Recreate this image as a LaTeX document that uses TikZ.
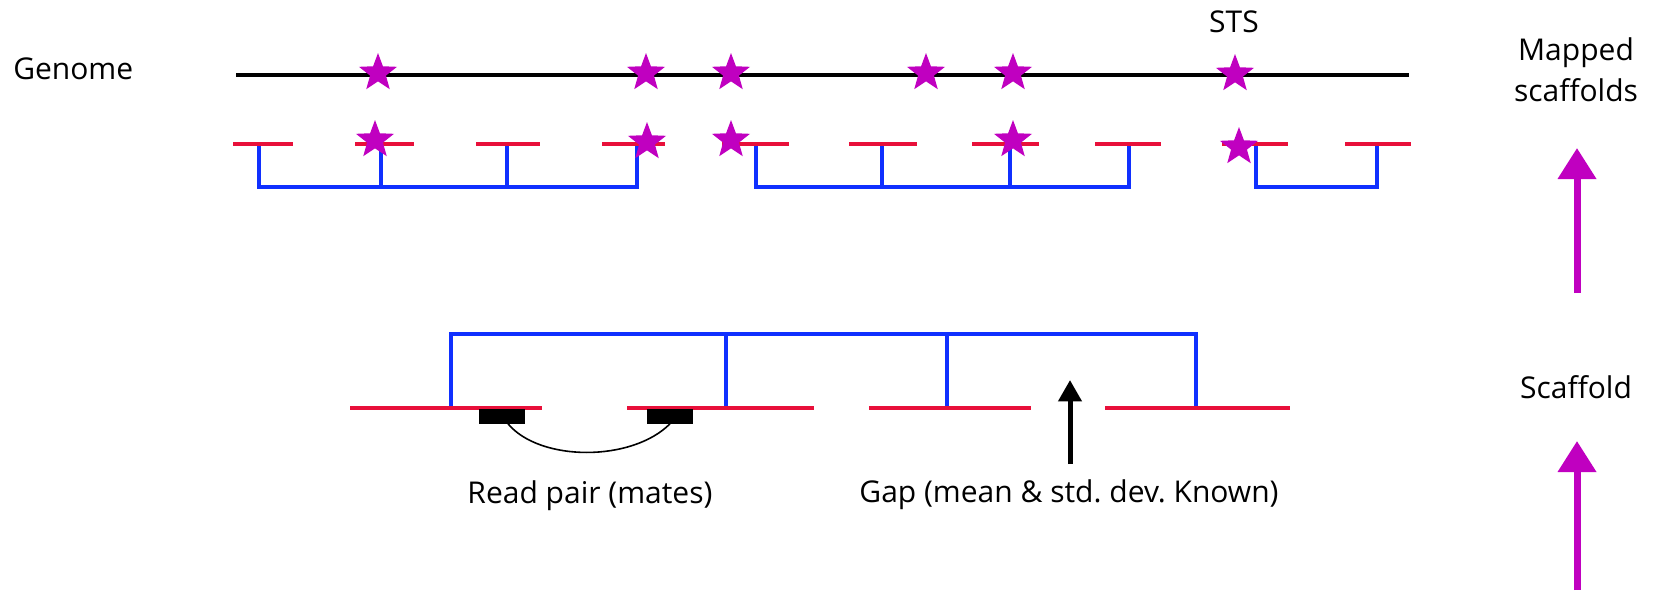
\documentclass[tikz,border=0pt]{standalone}
\usepackage{fontspec}
\setmainfont{Open Sans}
\usetikzlibrary{arrows.meta,shapes.geometric}
\definecolor{stsmag}{RGB}{192,0,192}
\definecolor{contigred}{RGB}{232,16,58}
\definecolor{linkblue}{RGB}{16,48,255}
\begin{document}
\begin{tikzpicture}[x=0.75pt,y=-0.75pt,
  lbl/.style={font=\fontsize{22.5}{28}\selectfont, inner sep=0pt},
  genomeline/.style={line width=3.4pt, black},
  contig/.style={line width=3.1pt, contigred},
  link/.style={line width=3pt, linkblue, line join=miter},
  sts/.style={star, star points=5, star point ratio=2.4, fill=stsmag, draw=none, minimum size=30pt, inner sep=0pt},
  readbox/.style={fill=black, minimum width=34.5pt, minimum height=11.25pt, inner sep=0pt},
  matecurve/.style={line width=1.2pt, black},
  uparrow/.style={line width=5.25pt, stsmag, -{Triangle[length=23.25pt,width=27.75pt]}},
  gaparrow/.style={line width=3.75pt, black, -{Triangle[length=16pt,width=17pt]}}
]
\useasboundingbox[fill=white] (0,0) rectangle (1654,590);

% ---- labels ----
\node[lbl, anchor=base west] (genome) at (13,79) {Genome};
\node[lbl, anchor=base] (stslbl) at (1234,32) {STS};
\node[lbl, anchor=base] (mapped1) at (1576,60) {Mapped};
\node[lbl, anchor=base] (mapped2) at (1576,101) {scaffolds};
\node[lbl, anchor=base] (scaffold) at (1576,398) {Scaffold};
\node[lbl, anchor=base] (readpair) at (590,503) {Read pair (mates)};
\node[lbl, anchor=base] (gaplbl) at (1069,502) {Gap (mean \& std.\ dev.\ Known)};

% ---- genome ----
\coordinate (gL) at (236,75);
\coordinate (gR) at (1409,75);
\draw[genomeline] (gL) -- (gR);

% ---- mapped scaffolds: blue links ----
\draw[link] (259,144) -- (259,187) -- (637,187) -- (637,144);
\draw[link] (381,144) -- (381,187);
\draw[link] (507,144) -- (507,187);
\draw[link] (756,144) -- (756,187) -- (1129,187) -- (1129,144);
\draw[link] (882,144) -- (882,187);
\draw[link] (1010,144) -- (1010,187);
\draw[link] (1256,144) -- (1256,187) -- (1377,187) -- (1377,144);

% ---- mapped scaffolds: red contigs ----
\foreach \a/\b in {233/293,355/414,476/540,602/665,722/789,849/917,972/1039,1095/1161,1222/1288,1345/1411}
  \draw[contig] (\a,144) -- (\b,144);

% ---- STS stars ----
\node[sts] (s1) at (378,73) {};
\node[sts] (s2) at (646,73) {};
\node[sts] (s3) at (731,73) {};
\node[sts] (s4) at (926,73) {};
\node[sts] (s5) at (1013,73) {};
\node[sts] (s6) at (1235,74) {};
\node[sts] (m1) at (375,140) {};
\node[sts] (m2) at (647,142) {};
\node[sts] (m3) at (731,140) {};
\node[sts] (m4) at (1013,140) {};
\node[sts] (m5) at (1239,147) {};

% ---- scaffold ----
\draw[link] (451,408) -- (451,334) -- (1196,334) -- (1196,408);
\draw[link] (726,334) -- (726,408);
\draw[link] (947,334) -- (947,408);
\foreach \a/\b in {350/542,627/814,869/1031,1105/1290}
  \draw[contig] (\a,408) -- (\b,408);

% ---- read pair ----
\node[readbox] (r1) at (502,416) {};
\node[readbox] (r2) at (670,416) {};
\draw[matecurve] ([xshift=4.5pt]r1.south) .. controls (540,462) and (632,462) .. (r2.south);

% ---- gap arrow ----
\coordinate (gaptail) at (1070,464);
\coordinate (gaptip) at (1070,380);
\draw[gaparrow] (gaptail) -- (gaptip);

% ---- magenta arrows ----
\coordinate (a1tail) at (1577,293);
\coordinate (a1tip) at (1577,148);
\coordinate (a2tail) at (1577,590);
\coordinate (a2tip) at (1577,441);
\draw[uparrow] (a1tail) -- (a1tip);
\draw[uparrow] (a2tail) -- (a2tip);
\end{tikzpicture}
\end{document}
